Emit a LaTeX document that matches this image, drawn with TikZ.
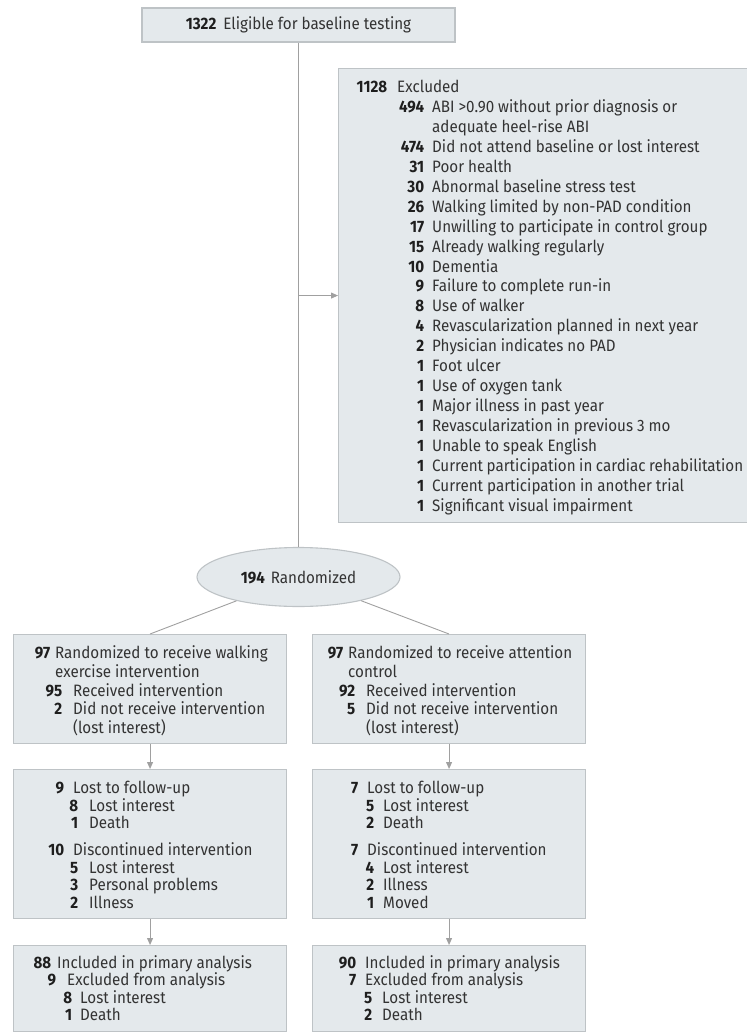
\documentclass[tikz,border=0pt]{standalone}
\usepackage{fontspec}
\setmainfont[FakeStretch=0.92]{Fira Sans}
\usetikzlibrary{arrows.meta,shapes.geometric}
\definecolor{boxfill}{HTML}{E4E9EC}
\definecolor{boxline}{HTML}{BEC3C6}
\definecolor{conn}{HTML}{A0A0A0}
\definecolor{txt}{HTML}{333333}
\definecolor{numc}{HTML}{1E1E1E}
\newcommand\rw[4]{\noindent\makebox[0pt][l]{\hspace*{#1pt}\llap{\textbf{\color{numc}#2}}}\hspace*{#3pt}#4\par}
\newcommand\fs[1]{\fontsize{16.5}{#1}\selectfont}
\tikzset{
  box/.style={rectangle, draw=boxline, fill=boxfill, line width=1.1pt, inner sep=0pt, anchor=north west},
  txtblk/.style={anchor=base west, inner sep=0pt, text=txt},
  conn/.style={draw=conn, line width=0.9pt},
  arr/.style={conn, -{Triangle[length=7pt,width=6pt]}, fill=conn},
}
\begin{document}
\begin{tikzpicture}[x=1pt,y=-1pt]
\useasboundingbox (0,0) rectangle (746,1032);
% top box
\node[box, anchor=center, minimum width=313pt, minimum height=34pt, text=txt, font=\fs{18}] (top) at (298.5,25) {\textbf{\color{numc}1322}\hspace{7pt}Eligible for baseline testing};
% excluded box
\node[box, minimum width=409pt, minimum height=454pt] (ex) at (338,68) {};
\node[txtblk] (exT) at (338,92.5) {\parbox[t]{405pt}{\fs{19.95}%
\rw{49}{1128}{59}{Excluded}
\rw{86}{494}{94}{ABI >0.90 without prior diagnosis or}
\rw{0}{}{94}{adequate heel-rise ABI}
\rw{86}{474}{94}{Did not attend baseline or lost interest}
\rw{86}{31}{94}{Poor health}
\rw{86}{30}{94}{Abnormal baseline stress test}
\rw{86}{26}{94}{Walking limited by non-PAD condition}
\rw{86}{17}{94}{Unwilling to participate in control group}
\rw{86}{15}{94}{Already walking regularly}
\rw{86}{10}{94}{Dementia}
\rw{86}{9}{94}{Failure to complete run-in}
\rw{86}{8}{94}{Use of walker}
\rw{86}{4}{94}{Revascularization planned in next year}
\rw{86}{2}{94}{Physician indicates no PAD}
\rw{86}{1}{94}{Foot ulcer}
\rw{86}{1}{94}{Use of oxygen tank}
\rw{86}{1}{94}{Major illness in past year}
\rw{86}{1}{94}{Revascularization in previous 3 mo}
\rw{86}{1}{94}{Unable to speak English}
\rw{86}{1}{94}{Current participation in cardiac rehabilitation}
\rw{86}{1}{94}{Current participation in another trial}
\rw{86}{1}{94}{Significant visual impairment}}};
% randomized
\node[ellipse, draw=boxline, fill=boxfill, line width=1.1pt, minimum width=203pt, minimum height=59pt, inner sep=0pt, text=txt, font=\fs{18}] (rand) at (298.5,577) {\textbf{\color{numc}194}\hspace{6pt}Randomized};
% left column
\node[box, minimum width=273pt, minimum height=109pt] (L1) at (13,634) {};
\node[box, minimum width=273pt, minimum height=149pt] (L2) at (13,769) {};
\node[box, minimum width=273pt, minimum height=86pt] (L3) at (13,945) {};
% right column
\node[box, minimum width=273pt, minimum height=109pt] (R1) at (312,634) {};
\node[box, minimum width=273pt, minimum height=149pt] (R2) at (312,769) {};
\node[box, minimum width=273pt, minimum height=86pt] (R3) at (312,945) {};
% texts
\node[txtblk] (L1T) at (13,658.5) {\parbox[t]{270pt}{\fs{18.8}%
\rw{37}{97}{42}{Randomized to receive walking}
\rw{0}{}{42}{exercise intervention}
\rw{49}{95}{60}{Received intervention}
\rw{49}{2}{60}{Did not receive intervention}
\rw{0}{}{60}{(lost interest)}}};
\node[txtblk] (R1T) at (312,658.5) {\parbox[t]{270pt}{\fs{18.8}%
\rw{31}{97}{36}{Randomized to receive attention}
\rw{0}{}{36}{control}
\rw{43}{92}{54}{Received intervention}
\rw{43}{5}{54}{Did not receive intervention}
\rw{0}{}{54}{(lost interest)}}};
\node[txtblk] (L2T) at (13,793.5) {\parbox[t]{270pt}{\fs{17.5}%
\rw{51}{9}{60}{Lost to follow-up}
\rw{65}{8}{76}{Lost interest}
\rw{65}{1}{76}{Death}
\vspace{9.5pt}
\rw{51}{10}{60}{Discontinued intervention}
\rw{65}{5}{76}{Lost interest}
\rw{65}{3}{76}{Personal problems}
\rw{65}{2}{76}{Illness}}};
\node[txtblk] (R2T) at (312,793.5) {\parbox[t]{270pt}{\fs{17.5}%
\rw{46}{7}{55}{Lost to follow-up}
\rw{62}{5}{71}{Lost interest}
\rw{62}{2}{71}{Death}
\vspace{9.5pt}
\rw{46}{7}{55}{Discontinued intervention}
\rw{62}{4}{71}{Lost interest}
\rw{62}{2}{71}{Illness}
\rw{62}{1}{71}{Moved}}};
\node[txtblk] (L3T) at (13,968.5) {\parbox[t]{270pt}{\fs{17.3}%
\rw{38}{88}{44}{Included in primary analysis}
\rw{43}{9}{54}{Excluded from analysis}
\rw{59}{8}{67}{Lost interest}
\rw{59}{1}{67}{Death}}};
\node[txtblk] (R3T) at (312,968.5) {\parbox[t]{270pt}{\fs{17.3}%
\rw{44}{90}{53}{Included in primary analysis}
\rw{44}{7}{53}{Excluded from analysis}
\rw{60}{5}{70}{Lost interest}
\rw{60}{2}{70}{Death}}};
% connectors
\draw[conn] (top.south) -- (rand.north);
\coordinate (br) at (top.south |- ex.west);
\draw[arr] (br) -- (ex.west);
\draw[conn] (rand) -- (L1.north);
\draw[conn] (rand) -- (R1.north);
\draw[arr] (L1.south) -- (L2.north);
\draw[arr] (L2.south) -- (L3.north);
\draw[arr] (R1.south) -- (R2.north);
\draw[arr] (R2.south) -- (R3.north);
\end{tikzpicture}
\end{document}
